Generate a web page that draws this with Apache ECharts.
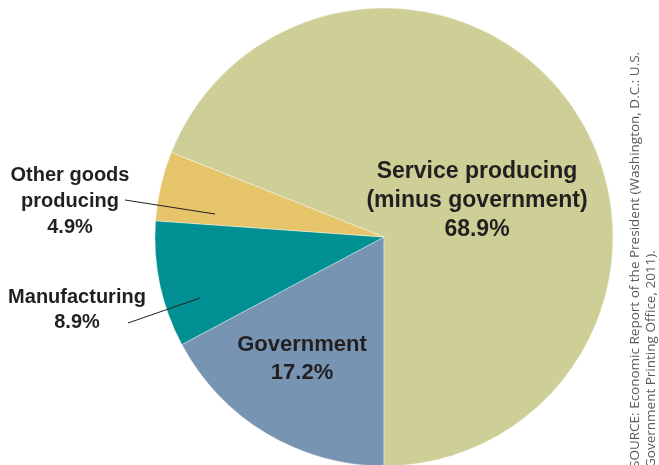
<!DOCTYPE html>
<html>
<head>
<meta charset="utf-8">
<script src="https://cdn.jsdelivr.net/npm/echarts@6/dist/echarts.min.js"></script>
<style>
  html, body { margin: 0; padding: 0; background: #ffffff; }
  #chart { width: 659px; height: 465px; }
</style>
</head>
<body>
<div id="chart"></div>
<script>
// Employment shares by sector (percent)
const sectors = ['Government', 'Manufacturing', 'Other goods\nproducing', 'Service producing\n(minus government)'];
const shares = [17.2, 8.9, 4.9, 68.9];
const sliceColors = ['#7894b3', '#009094', '#e5c46a', '#cecf96'];
const sourceNote = 'SOURCE: Economic Report of the President (Washington, D.C.: U.S.\nGovernment Printing Office, 2011).';

const textColor = '#231f20';
const fontFamily = '"Liberation Sans", Arial, sans-serif';

// Label styling and placement for each slice
const labelStyles = [
  { fontSize: 22, lineHeight: 28 },
  { fontSize: 20, lineHeight: 25 },
  { fontSize: 20, lineHeight: 26 },
  { fontSize: 23, lineHeight: 29 }
];
const labelPlacement = [
  { x: 302, y: 359 },
  { x: 77, y: 310 },
  { x: 70, y: 201 },
  { x: 477, y: 201 }
];
// Leader lines joining the outside labels to their slices
const leaderLines = [
  [[128, 323], [200, 298]],
  [[125, 200], [215, 214]]
];

const data = sectors.map((name, i) => ({
  name: name,
  value: shares[i],
  itemStyle: { color: sliceColors[i] },
  label: {
    fontSize: labelStyles[i].fontSize,
    lineHeight: labelStyles[i].lineHeight
  }
}));

const chart = echarts.init(document.getElementById('chart'), null, { renderer: 'canvas' });
chart.setOption({
  animation: false,
  backgroundColor: '#ffffff',
  series: [{
    type: 'pie',
    center: [384, 237],
    radius: [0, 229],
    startAngle: 270,
    clockwise: true,
    silent: true,
    avoidLabelOverlap: false,
    itemStyle: { borderColor: 'rgba(255,255,255,0.55)', borderWidth: 0.7 },
    label: {
      show: true,
      position: 'inside',
      color: textColor,
      fontFamily: fontFamily,
      fontWeight: 'bold',
      align: 'center',
      formatter: p => p.name + '\n' + p.value.toFixed(1) + '%'
    },
    labelLine: { show: false },
    labelLayout: function (params) {
      const p = labelPlacement[params.dataIndex];
      return { x: p.x, y: p.y, align: 'center', verticalAlign: 'middle', hideOverlap: false };
    },
    data: data
  }],
  graphic: leaderLines.map(pts => ({
    type: 'line',
    silent: true,
    z: 100,
    shape: { x1: pts[0][0], y1: pts[0][1], x2: pts[1][0], y2: pts[1][1] },
    style: { stroke: textColor, lineWidth: 1 }
  })).concat([{
    type: 'text',
    x: 627,
    y: 468,
    rotation: Math.PI / 2,
    silent: true,
    style: {
      text: sourceNote,
      fill: '#5a5a5a',
      font: '13.5px "Open Sans", sans-serif',
      lineHeight: 16,
      align: 'left',
      verticalAlign: 'top'
    }
  }])
});
</script>
</body>
</html>
